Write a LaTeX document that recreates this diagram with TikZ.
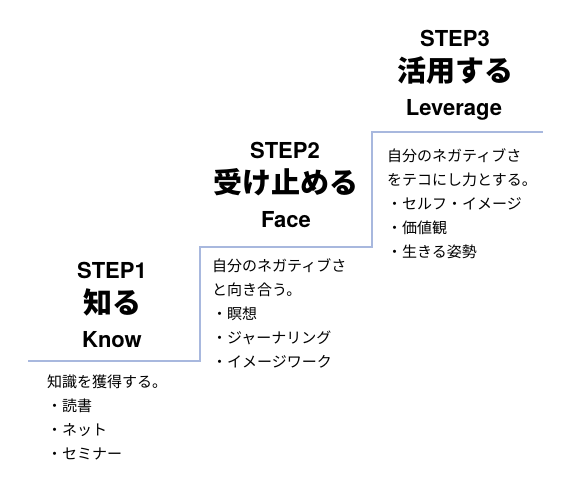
\documentclass[tikz,border=0pt]{standalone}
\usepackage{fontspec}
\usepackage{tikz}
\usetikzlibrary{positioning}
\newfontfamily\jpfont{Noto Sans CJK JP}
\newfontfamily\jpheavy{Noto Sans CJK JP Black}
\newfontfamily\headfont{TeX Gyre Heros}
\definecolor{StairBlue}{RGB}{168,184,222}

\begin{document}
\begin{tikzpicture}[x=1pt,y=-1pt,
    stairline/.style={StairBlue,line width=1.5pt},
    stepno/.style={anchor=base,inner sep=0pt,
      font=\headfont\bfseries\fontsize{22}{22}\selectfont},
    stepjp/.style={anchor=center,inner sep=0pt,
      font=\jpheavy\fontsize{29}{29}\selectfont},
    stepdesc/.style={anchor=north west,inner sep=0pt,align=left,
      font=\jpfont\fontsize{15}{24}\selectfont}]
  \useasboundingbox (0,0) rectangle (588,484);
  % stairs
  \coordinate (s0) at (28,361);
  \coordinate (s1) at (200,247);
  \coordinate (s2) at (372,132);
  \coordinate (s3) at (543,132);
  \draw[stairline] (s0) -| (s1) -| (s2) -- (s3);
  % step 1
  \node[stepno] (no1) at (112,278) {STEP1};
  \node[stepjp] (jp1) at (112,302) {知る};
  \node[stepno] (en1) at (112,347) {Know};
  \node[stepdesc] (desc1) at (47,375)
    {知識を獲得する。\\・読書\\・ネット\\・セミナー};
  % step 2
  \node[stepno] (no2) at (285,158) {STEP2};
  \node[stepjp] (jp2) at (286,182) {受け止める};
  \node[stepno] (en2) at (286,227) {Face};
  \node[stepdesc] (desc2) at (212,258)
    {自分のネガティブさ\\と向き合う。\\・瞑想\\・ジャーナリング\\・イメージワーク};
  % step 3
  \node[stepno] (no3) at (455,47) {STEP3};
  \node[stepjp] (jp3) at (455,71) {活用する};
  \node[stepno] (en3) at (454,115) {Leverage};
  \node[stepdesc] (desc3) at (387,148)
    {自分のネガティブさ\\をテコにし力とする。\\・セルフ・イメージ\\・価値観\\・生きる姿勢};
\end{tikzpicture}
\end{document}
